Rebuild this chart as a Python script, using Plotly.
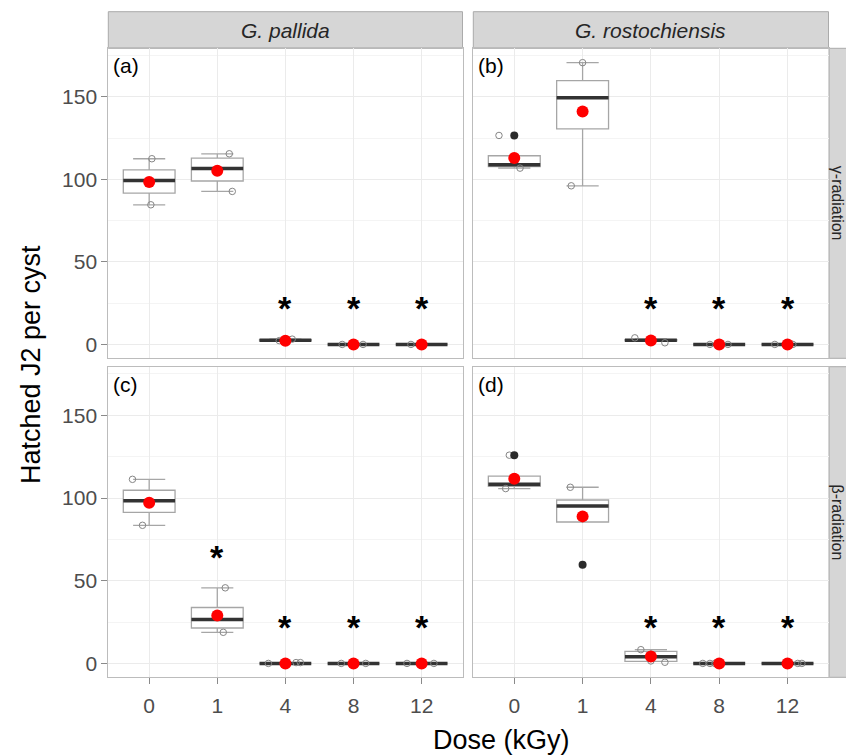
import plotly.graph_objects as go

# the page body adds an 8px margin, so the figure is drawn in a shifted frame
OFF = 8
W, H = 854 - OFF, 755 - OFF

doses = ["0", "1", "4", "8", "12"]
species = ["G. pallida", "G. rostochiensis"]
radiations = ["γ-radiation", "β-radiation"]
panel_tags = ["(a)", "(b)", "(c)", "(d)"]

# ---- panel (a): G. pallida, gamma ----
a_q1 = [91.7, 99.0, 2.2, 0, 0]
a_med = [99.3, 106.6, 2.6, 0, 0]
a_q3 = [105.8, 112.9, 2.9, 0, 0]
a_lo = [84.6, 92.7, 2.0, 0, 0]
a_hi = [112.5, 115.5, 3.2, 0, 0]
a_mean = [98.4, 105.2, 2.3, 0, 0]
a_pts_dose = [0, 0, 1, 1, 2, 2, 3, 3, 4]
a_pts_jit = [0.04, 0.025, 0.176, 0.22, -0.09, 0.10, -0.166, 0.14, -0.157]
a_pts_val = [112.5, 84.6, 115.5, 92.7, 2.3, 3.2, 0, 0, 0]
a_out_dose = []
a_out_val = []
a_star_dose = [2, 3, 4]
a_star_val = [24, 24, 24]

# ---- panel (b): G. rostochiensis, gamma ----
b_q1 = [107.8, 130.6, 2.2, 0, 0]
b_med = [108.8, 149.5, 2.6, 0, 0]
b_q3 = [114.3, 159.8, 2.9, 0, 0]
b_lo = [106.8, 96.1, 2.0, 0, 0]
b_hi = [114.3, 170.7, 3.2, 0, 0]
b_mean = [112.9, 141.1, 2.4, 0, 0]
b_pts_dose = [0, 0, 1, 1, 2, 2, 3, 3, 4, 4]
b_pts_jit = [-0.224, 0.084, 0.0, -0.166, -0.235, 0.205, -0.136, 0.128, -0.186, 0.078]
b_pts_val = [126.6, 106.8, 170.7, 96.1, 4.0, 1.0, 0, 0, 0, 0]
b_out_dose = [0]
b_out_val = [126.6]
b_star_dose = [2, 3, 4]
b_star_val = [24, 24, 24]

# ---- panel (c): G. pallida, beta ----
c_q1 = [91.3, 21.4, 0, 0, 0]
c_med = [98.4, 26.5, 0, 0, 0]
c_q3 = [104.7, 33.8, 0, 0, 0]
c_lo = [83.5, 18.8, 0, 0, 0]
c_hi = [111.3, 45.7, 0, 0, 0]
c_mean = [97.2, 28.9, 0, 0, 0]
c_pts_dose = [0, 0, 1, 1, 2, 2, 2, 3, 3, 4, 4]
c_pts_jit = [-0.245, -0.098, 0.117, 0.088, -0.25, 0.157, 0.22, -0.18, 0.18, -0.215, 0.18]
c_pts_val = [111.3, 83.5, 45.7, 18.8, 0, 0.5, 0.5, 0, 0, 0, 0]
c_out_dose = []
c_out_val = []
c_star_dose = [1, 2, 3, 4]
c_star_val = [66.3, 23.9, 23.9, 23.9]

# ---- panel (d): G. rostochiensis, beta ----
d_q1 = [107.1, 85.5, 1.2, 0, 0]
d_med = [108.3, 95.2, 4.1, 0, 0]
d_q3 = [113.2, 98.8, 7.3, 0, 0]
d_lo = [105.7, 85.5, 1.2, 0, 0]
d_hi = [113.2, 106.5, 8.3, 0, 0]
d_mean = [111.7, 88.9, 4.2, 0, 0]
d_pts_dose = [0, 0, 1, 2, 2, 2, 3, 3, 3, 4, 4]
d_pts_jit = [-0.073, -0.126, -0.18, -0.147, 0.0, 0.205, -0.24, -0.136, -0.063, 0.15, 0.21]
d_pts_val = [125.9, 105.7, 106.5, 8.3, 1.5, 0.7, 0, 0, 0, 0, 0]
d_out_dose = [0, 1]
d_out_val = [125.9, 59.6]
d_star_dose = [2, 3, 4]
d_star_val = [23.9, 23.9, 23.9]

panels = [
    dict(q1=a_q1, med=a_med, q3=a_q3, lo=a_lo, hi=a_hi, mean=a_mean,
         pd=a_pts_dose, pj=a_pts_jit, pv=a_pts_val, od=a_out_dose, ov=a_out_val,
         sd=a_star_dose, sv=a_star_val),
    dict(q1=b_q1, med=b_med, q3=b_q3, lo=b_lo, hi=b_hi, mean=b_mean,
         pd=b_pts_dose, pj=b_pts_jit, pv=b_pts_val, od=b_out_dose, ov=b_out_val,
         sd=b_star_dose, sv=b_star_val),
    dict(q1=c_q1, med=c_med, q3=c_q3, lo=c_lo, hi=c_hi, mean=c_mean,
         pd=c_pts_dose, pj=c_pts_jit, pv=c_pts_val, od=c_out_dose, ov=c_out_val,
         sd=c_star_dose, sv=c_star_val),
    dict(q1=d_q1, med=d_med, q3=d_q3, lo=d_lo, hi=d_hi, mean=d_mean,
         pd=d_pts_dose, pj=d_pts_jit, pv=d_pts_val, od=d_out_dose, ov=d_out_val,
         sd=d_star_dose, sv=d_star_val),
]

# ---- layout geometry (screen pixels of the reference) ----
col_px = [(108.3, 462.5), (473.3, 828.5)]
row_px = [(48.3, 358.3), (366.7, 677.3)]
strip_top = 11.7
right_strip = (829.0, 880.0)
YR = [-8.4, 179.4]
XR = [-0.6, 4.6]


def px(x):
    return (x - OFF) / W


def py(y):
    return 1 - (y - OFF) / H


FONT = "Liberation Sans, Arial, sans-serif"
GRID = "#ebebeb"
MINOR = "#f4f4f4"
BORDER = "#bcbcbc"
TICKC = "#4d4d4d"

fig = go.Figure()
layout = dict(width=W, height=H, margin=dict(l=0, r=0, t=0, b=0),
              paper_bgcolor="white", plot_bgcolor="white", showlegend=False,
              font=dict(family=FONT, color=TICKC))
annotations = []
shapes = []

idx = 0
for r in range(2):
    for c in range(2):
        p = panels[idx]
        n = idx + 1
        xa = "x" if n == 1 else f"x{n}"
        ya = "y" if n == 1 else f"y{n}"
        xpos = list(range(len(doses)))
        fig.add_trace(go.Box(x=xpos, q1=p["q1"], median=p["med"], q3=p["q3"],
                             lowerfence=p["lo"], upperfence=p["hi"],
                             width=0.76, whiskerwidth=0.62, boxpoints=False,
                             fillcolor="white", line=dict(color="#a6a6a6", width=1.3),
                             xaxis=xa, yaxis=ya, hoverinfo="skip"))
        fig.add_trace(go.Box(x=xpos, q1=p["med"], median=p["med"], q3=p["med"],
                             lowerfence=p["med"], upperfence=p["med"],
                             width=0.76, whiskerwidth=0, boxpoints=False,
                             fillcolor="rgba(0,0,0,0)", line=dict(color="#333333", width=3.5),
                             xaxis=xa, yaxis=ya, hoverinfo="skip"))
        fig.add_trace(go.Scatter(x=[d + j for d, j in zip(p["pd"], p["pj"])], y=p["pv"],
                                 mode="markers", xaxis=xa, yaxis=ya,
                                 marker=dict(symbol="circle-open", size=6.5,
                                             color="#858585", line=dict(width=1)),
                                 hoverinfo="skip"))
        if p["od"]:
            fig.add_trace(go.Scatter(x=p["od"], y=p["ov"], mode="markers",
                                     xaxis=xa, yaxis=ya,
                                     marker=dict(symbol="circle", size=8, color="#2b2b2b"),
                                     hoverinfo="skip"))
        fig.add_trace(go.Scatter(x=xpos, y=p["mean"], mode="markers",
                                 xaxis=xa, yaxis=ya,
                                 marker=dict(symbol="circle", size=12, color="#ff0000"),
                                 hoverinfo="skip"))
        for sd, sv in zip(p["sd"], p["sv"]):
            annotations.append(dict(x=sd, y=sv, xref=xa, yref=ya, text="<b>*</b>",
                                    showarrow=False, yshift=-3,
                                    font=dict(size=34, color="black", family=FONT)))
        x0, x1 = col_px[c]
        y0, y1 = row_px[r]
        xkey = "xaxis" if n == 1 else f"xaxis{n}"
        ykey = "yaxis" if n == 1 else f"yaxis{n}"
        layout[xkey] = dict(domain=[px(x0), px(x1)], range=XR, anchor=ya,
                            tickvals=xpos, ticktext=doses,
                            showticklabels=(r == 1), ticks="outside" if r == 1 else "",
                            ticklen=6, tickcolor="#8a8a8a", tickwidth=1,
                            ticklabelstandoff=3,
                            tickfont=dict(size=21, color=TICKC),
                            showgrid=True, gridcolor=GRID, gridwidth=1,
                            showline=True, linecolor=BORDER, linewidth=1, mirror=True,
                            zeroline=False, fixedrange=True)
        layout[ykey] = dict(domain=[py(y1), py(y0)], range=YR, anchor=xa,
                            tickvals=[0, 50, 100, 150],
                            showticklabels=(c == 0), ticks="outside" if c == 0 else "",
                            ticklen=6, tickcolor="#8a8a8a", tickwidth=1,
                            tickfont=dict(size=21, color=TICKC),
                            showgrid=True, gridcolor=GRID, gridwidth=1,
                            minor=dict(tickvals=[25, 75, 125, 175], showgrid=True,
                                       gridcolor=MINOR, gridwidth=1, ticks=""),
                            showline=True, linecolor=BORDER, linewidth=1, mirror=True,
                            zeroline=False, fixedrange=True)
        annotations.append(dict(x=px(x0 + 3), y=py(y0 + 17.5), xref="paper", yref="paper",
                                text=panel_tags[idx], showarrow=False,
                                xanchor="left", yanchor="middle",
                                font=dict(size=21, color="black", family=FONT)))
        idx += 1

for c in range(2):
    x0, x1 = col_px[c]
    shapes.append(dict(type="rect", xref="paper", yref="paper",
                       x0=px(x0), x1=px(x1), y0=py(row_px[0][0]), y1=py(strip_top),
                       fillcolor="#d6d6d6", line=dict(color="#ababab", width=1), layer="below"))
    annotations.append(dict(x=px((x0 + x1) / 2), y=py((strip_top + row_px[0][0]) / 2),
                            xref="paper", yref="paper", text=f"<i>{species[c]}</i>",
                            showarrow=False, xanchor="center", yanchor="middle",
                            font=dict(size=21, color="#262626", family=FONT)))
for r in range(2):
    y0, y1 = row_px[r]
    shapes.append(dict(type="rect", xref="paper", yref="paper",
                       x0=px(right_strip[0]), x1=px(right_strip[1]), y0=py(y1), y1=py(y0),
                       fillcolor="#d6d6d6", line=dict(color="#ababab", width=1), layer="below"))
    annotations.append(dict(x=px(837.5), y=py((y0 + y1) / 2), xref="paper", yref="paper",
                            text=radiations[r], textangle=90, showarrow=False,
                            xanchor="center", yanchor="middle",
                            font=dict(size=16, color="#262626", family=FONT)))

annotations.append(dict(x=px(501), y=py(740), xref="paper", yref="paper",
                        text="Dose (kGy)", showarrow=False, xanchor="center", yanchor="middle",
                        font=dict(size=27, color="black", family=FONT)))
annotations.append(dict(x=px(31), y=py(365), xref="paper", yref="paper",
                        text="Hatched J2 per cyst", textangle=-90, showarrow=False,
                        xanchor="center", yanchor="middle",
                        font=dict(size=27, color="black", family=FONT)))

layout["annotations"] = annotations
layout["shapes"] = shapes
fig.update_layout(**layout)
fig.write_html("out.html")
